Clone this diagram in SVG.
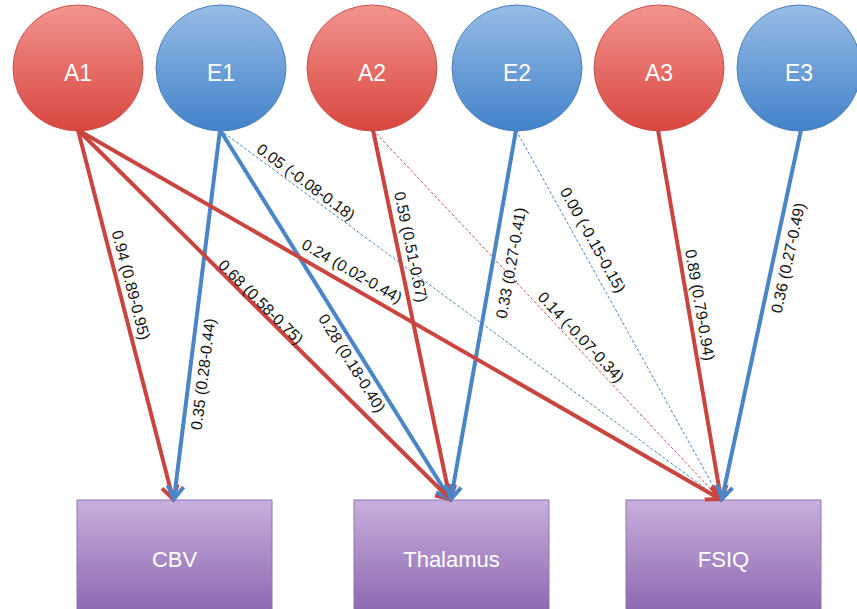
<svg xmlns="http://www.w3.org/2000/svg" width="857" height="609" viewBox="0 0 857 609">
<defs>
<linearGradient id="gr" x1="0" y1="0" x2="0" y2="1"><stop offset="0" stop-color="#f2948f"/><stop offset="1" stop-color="#d9463f"/></linearGradient>
<linearGradient id="gb" x1="0" y1="0" x2="0" y2="1"><stop offset="0" stop-color="#97bce6"/><stop offset="1" stop-color="#4282c9"/></linearGradient>
<linearGradient id="gp" x1="0" y1="0" x2="0" y2="1"><stop offset="0" stop-color="#c8afdd"/><stop offset="1" stop-color="#8a62ae"/></linearGradient>
<marker id="ar" markerUnits="userSpaceOnUse" viewBox="-18 -12 22 24" refX="0" refY="0" markerWidth="22" markerHeight="24" orient="auto"><path d="M-13,-8 L0,0 L-13,8" fill="none" stroke="#c9453f" stroke-width="4"/></marker>
<marker id="ab" markerUnits="userSpaceOnUse" viewBox="-18 -12 22 24" refX="0" refY="0" markerWidth="22" markerHeight="24" orient="auto"><path d="M-13,-8 L0,0 L-13,8" fill="none" stroke="#4a85c8" stroke-width="4"/></marker>
</defs>
<style>
.ca{fill:url(#gr);stroke:#c8524c;stroke-width:1}
.ce{fill:url(#gb);stroke:#4a7fbf;stroke-width:1}
.bx{fill:url(#gp);stroke:#9273b6;stroke-width:1}
.nt{font-family:"Liberation Sans",Arial,sans-serif;font-size:23px;fill:#ffffff;text-anchor:middle}
.bt{font-family:"Liberation Sans",Arial,sans-serif;font-size:22px;fill:#ffffff;text-anchor:middle}
.r{stroke:#c9453f;stroke-width:4;fill:none;marker-end:url(#ar)}
.b{stroke:#4a85c8;stroke-width:4;fill:none;marker-end:url(#ab)}
.rd{stroke:#d0534c;stroke-width:1;stroke-dasharray:3 2;fill:none}
.bd{stroke:#4a85c8;stroke-width:1;stroke-dasharray:3 2;fill:none}
.lb{font-family:"Liberation Sans",Arial,sans-serif;font-size:15.8px;fill:#111;text-anchor:middle;dominant-baseline:central}
</style>
<g id="A1"><ellipse class="ca" cx="78" cy="68" rx="65" ry="63"/><text class="nt" x="78" y="81">A1</text></g>
<g id="E1"><ellipse class="ce" cx="221" cy="68" rx="65" ry="63"/><text class="nt" x="221" y="81">E1</text></g>
<g id="A2"><ellipse class="ca" cx="372" cy="68" rx="65" ry="63"/><text class="nt" x="372" y="81">A2</text></g>
<g id="E2"><ellipse class="ce" cx="517" cy="68" rx="65" ry="63"/><text class="nt" x="517" y="81">E2</text></g>
<g id="A3"><ellipse class="ca" cx="659" cy="68" rx="65" ry="63"/><text class="nt" x="659" y="81">A3</text></g>
<g id="E3"><ellipse class="ce" cx="799" cy="68" rx="62" ry="63"/><text class="nt" x="799" y="81">E3</text></g>
<g id="CBV"><rect class="bx" x="77" y="500" width="195" height="120"/><text class="bt" x="174.5" y="567">CBV</text></g>
<g id="Thalamus"><rect class="bx" x="354" y="500" width="195" height="120"/><text class="bt" x="451.5" y="567">Thalamus</text></g>
<g id="FSIQ"><rect class="bx" x="626" y="500" width="195" height="120"/><text class="bt" x="723.5" y="567">FSIQ</text></g>
<g id="connectors">
<line class="bd" x1="220" y1="130" x2="721" y2="500"/>
<line class="rd" x1="373" y1="130" x2="721" y2="500"/>
<line class="bd" x1="516" y1="130" x2="721" y2="500"/>
<line class="r" x1="78" y1="130" x2="173" y2="499"/>
<line class="b" x1="220" y1="130" x2="174" y2="499"/>
<line class="r" x1="78" y1="130" x2="450" y2="499"/>
<line class="b" x1="220" y1="130" x2="450" y2="499"/>
<line class="r" x1="373" y1="130" x2="450" y2="499"/>
<line class="b" x1="516" y1="130" x2="451" y2="499"/>
<line class="r" x1="78" y1="130" x2="720" y2="499"/>
<line class="r" x1="658" y1="130" x2="721" y2="499"/>
<line class="b" x1="801" y1="130" x2="722" y2="499"/>
</g>
<g id="labels">
<text class="lb" transform="translate(131,285) rotate(75.5)">0.94 (0.89-0.95)</text>
<text class="lb" transform="translate(261,302) rotate(44.8)">0.68 (0.58-0.75)</text>
<text class="lb" transform="translate(352,271) rotate(29.9)">0.24 (0.02-0.44)</text>
<text class="lb" transform="translate(203,374) rotate(-82.9)">0.35 (0.28-0.44)</text>
<text class="lb" transform="translate(352,363) rotate(58.1)">0.28 (0.18-0.40)</text>
<text class="lb" transform="translate(306,182) rotate(36.4)">0.05 (-0.08-0.18)</text>
<text class="lb" transform="translate(411,247) rotate(78.2)">0.59 (0.51-0.67)</text>
<text class="lb" transform="translate(581,337) rotate(46.7)">0.14 (-0.07-0.34)</text>
<text class="lb" transform="translate(511,263) rotate(-79.9)">0.33 (0.27-0.41)</text>
<text class="lb" transform="translate(593,240) rotate(60.9)">0.00 (-0.15-0.15)</text>
<text class="lb" transform="translate(700,305) rotate(80.2)">0.89 (0.79-0.94)</text>
<text class="lb" transform="translate(788,258) rotate(-77.8)">0.36 (0.27-0.49)</text>
</g>
</svg>
